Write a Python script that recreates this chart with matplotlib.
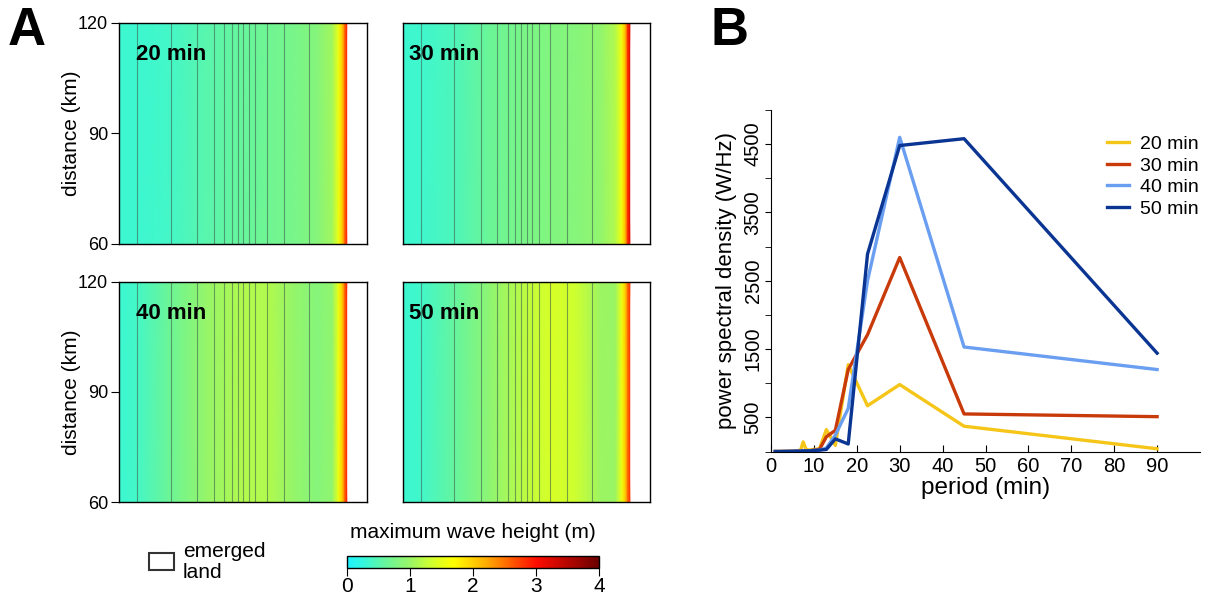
import numpy as np
import matplotlib
matplotlib.use("Agg")
import matplotlib.pyplot as plt
from matplotlib.colors import LinearSegmentedColormap
from matplotlib.patches import Rectangle

plt.rcParams['font.family'] = ['Liberation Sans', 'DejaVu Sans']

# ---- panel A data: cross-shore max wave height profiles (x = fraction of domain) ----
land_start = 0.918
isobath_x = [0.073, 0.209, 0.315, 0.383, 0.425, 0.454, 0.478, 0.501, 0.524, 0.550, 0.595, 0.664, 0.767]

prof_x = [0.0, 0.07, 0.20, 0.35, 0.50, 0.60, 0.70, 0.80, 0.86, 0.885, 0.90, 0.91, 0.918]
heights_20 = [0.33, 0.33, 0.38, 0.52, 0.62, 0.68, 0.74, 0.85, 1.05, 1.55, 2.00, 2.50, 2.90]
heights_30 = [0.33, 0.35, 0.45, 0.65, 0.78, 0.82, 0.85, 0.95, 1.15, 1.60, 2.10, 2.80, 3.20]
heights_40 = [0.33, 0.38, 0.65, 0.98, 1.15, 1.15, 0.98, 0.85, 0.95, 1.55, 2.00, 2.50, 2.90]
heights_50 = [0.33, 0.36, 0.58, 0.92, 1.22, 1.40, 1.32, 1.02, 1.00, 1.55, 2.00, 2.50, 2.80]

panel_labels = ["20 min", "30 min", "40 min", "50 min"]
panel_heights = [heights_20, heights_30, heights_40, heights_50]

# ---- panel B data: power spectra ----
periods = [1, 2, 3, 4, 5, 6, 6.4, 6.9, 7.5, 8.2, 9, 10, 11.3, 12.9, 15, 18, 22.5, 30, 45, 90]
psd_20 = [0, 1, 2, 3, 5, 10, 15, 20, 140, 30, 20, 30, 40, 320, 90, 1270, 670, 980, 370, 40]
psd_30 = [0, 0, 1, 2, 3, 5, 5, 5, 10, 10, 10, 20, 30, 215, 310, 1200, 1710, 2840, 550, 510]
psd_40 = [0, 0, 1, 2, 3, 5, 5, 5, 8, 8, 10, 15, 20, 50, 240, 630, 2500, 4600, 1530, 1200]
psd_50 = [0, 0, 1, 2, 3, 5, 5, 5, 8, 8, 10, 15, 20, 30, 185, 110, 2890, 4480, 4580, 1440]
series_names = ["20 min", "30 min", "40 min", "50 min"]
series_colors = ["#f5c518", "#c83a0a", "#6a9ef0", "#0a3593"]

cmap = LinearSegmentedColormap.from_list("wave", [
    (0.0 / 4, (0.12, 0.95, 1.00)),
    (0.3 / 4, (0.22, 0.97, 0.84)),
    (0.6 / 4, (0.40, 0.96, 0.62)),
    (1.0 / 4, (0.60, 0.96, 0.40)),
    (1.3 / 4, (0.80, 1.00, 0.20)),
    (1.7 / 4, (1.00, 1.00, 0.00)),
    (2.2 / 4, (1.00, 0.68, 0.00)),
    (3.0 / 4, (1.00, 0.05, 0.00)),
    (4.0 / 4, (0.42, 0.00, 0.00)),
])

fig = plt.figure(figsize=(12.05, 5.97), dpi=100)

W, H = 1205.0, 597.0
def px_axes(x0, y0, x1, y1):
    return fig.add_axes([x0 / W, 1 - y1 / H, (x1 - x0) / W, (y1 - y0) / H])

boxes = [(119, 22.5, 367, 243.5), (402.7, 22.5, 650, 243.5),
         (119, 281.7, 367, 502.3), (402.7, 281.7, 650, 502.3)]
label_dx = [0.07, 0.025, 0.07, 0.025]

px = np.array(prof_x)
yy = np.array([60.0, 120.0])
for i, (box, hts) in enumerate(zip(boxes, panel_heights)):
    ax = px_axes(*box)
    X, Y = np.meshgrid(px, yy)
    Z = np.vstack([hts, hts])
    ax.pcolormesh(X, Y, Z, cmap=cmap, vmin=0, vmax=4, shading='gouraud',
                  antialiased=False)
    ax.vlines(isobath_x, 60, 120, colors='#3f5f50', linewidth=0.8, alpha=0.6)
    ax.set_xlim(0, 1)
    ax.set_ylim(60, 120)
    ax.set_xticks([])
    ax.set_yticks([60, 90, 120])
    ax.tick_params(axis='y', labelsize=13, length=6, direction='out', pad=2)
    if i % 2 == 0:
        ax.set_ylabel("distance (km)", fontsize=15, labelpad=-2)
    else:
        ax.set_yticklabels([])
        ax.tick_params(axis='y', length=0)
    for s in ax.spines.values():
        s.set_linewidth(1.0)
    ax.text(label_dx[i], 0.855, panel_labels[i], transform=ax.transAxes,
            fontsize=16, fontweight='bold', va='center', ha='left')

# colorbar
cax = px_axes(346.7, 556, 599.3, 567.7)
sm = matplotlib.cm.ScalarMappable(cmap=cmap, norm=matplotlib.colors.Normalize(0, 4))
cb = fig.colorbar(sm, cax=cax, orientation='horizontal', ticks=[0, 1, 2, 3, 4])
cb.outline.set_linewidth(1.0)
cax.tick_params(labelsize=15, length=6, direction='out', pad=1)
fig.text(473 / W, 1 - 532 / H, "maximum wave height (m)", fontsize=15,
         ha='center', va='center')

# emerged land legend
fig.patches.append(Rectangle((149.3 / W, 1 - 570 / H), 25 / W, 17 / H,
                             transform=fig.transFigure, facecolor='white',
                             edgecolor='#333333', linewidth=1.5))
fig.text(183 / W, 1 - 562 / H, "emerged\nland", fontsize=15, ha='left',
         va='center', linespacing=1.1)

# panel letters
fig.text(8 / W, 1 - 31 / H, "A", fontsize=38, fontweight='bold', va='center')
fig.text(710 / W, 1 - 31 / H, "B", fontsize=38, fontweight='bold', va='center')

# ---- panel B ----
axb = px_axes(771, 110, 1200, 451.5)
for name, vals, col in zip(series_names, [psd_20, psd_30, psd_40, psd_50], series_colors):
    axb.plot(periods, vals, color=col, linewidth=2.4, label=name)
axb.set_xlim(0, 100)
axb.set_ylim(0, 5000)
axb.spines['top'].set_visible(False)
axb.spines['right'].set_visible(False)
axb.set_xticks(range(0, 100, 10))
axb.set_yticks([500, 1500, 2500, 3500, 4500])
axb.set_yticks(range(0, 5001, 1000), minor=True)
axb.tick_params(axis='x', direction='in', length=5, labelsize=14.5, pad=4)
axb.tick_params(axis='y', which='both', direction='out', length=4, labelsize=14.5,
                labelrotation=90, pad=2)
for t in axb.get_yticklabels():
    t.set_va('center')
axb.set_xlabel("period (min)", fontsize=17.5, labelpad=1)
axb.set_ylabel("power spectral density (W/Hz)", fontsize=16, labelpad=5)
axb.legend(loc='upper left', bbox_to_anchor=(0.783, 0.925), frameon=False,
           fontsize=14, handlelength=1.15, handletextpad=0.55, labelspacing=0.2,
           borderpad=0, borderaxespad=0)

fig.savefig("out.png", dpi=100)
